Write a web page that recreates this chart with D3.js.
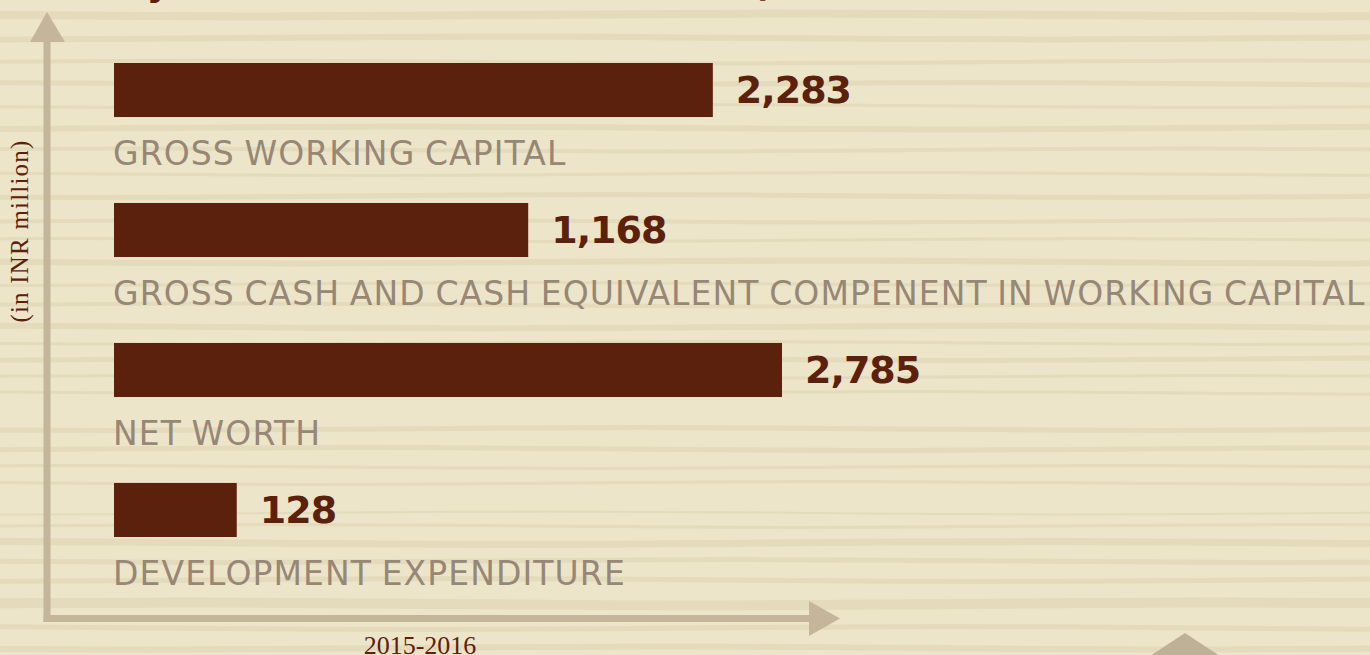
<!DOCTYPE html>
<html>
<head>
<meta charset="utf-8">
<script src="https://cdn.jsdelivr.net/npm/d3@7"></script>
<style>
  html, body { margin: 0; padding: 0; background: #EDE5C9; overflow: hidden; }
  svg { display: block; }
</style>
</head>
<body>
<svg id="chart" width="1370" height="655"></svg>
<script>
// ---- data ----
const categories = [
  "GROSS WORKING CAPITAL",
  "GROSS CASH AND CASH EQUIVALENT COMPENENT IN WORKING CAPITAL",
  "NET WORTH",
  "DEVELOPMENT EXPENDITURE"
];
const values = [2283, 1168, 2785, 128];
const valueLabels = ["2,283", "1,168", "2,785", "128"];
const yAxisTitle = "(in INR million)";
const xAxisLabel = "2015-2016";
const titleLeft = "Key Financial Indicators";
const titleRight = "(All Amounts Stated in INR Million)";

// decorative wood-grain stripes: [y, thickness]
const stripes = [
  [15,8],[38,6],[62,4],[84,5],[106,3],[128,6],[150,4],[174,3],[196,5],[221,4],
  [240,3],[262,6],[284,3],[305,4],[327,6],[343,3],[359,5],[377,3],[393,3],[429,5],
  [449,5],[467,3],[483,3],[513,2],[526,3],[543,7],[561,5],[580,5],[604,10],[628,5],[648,6]
];

const W = 1370, H = 655;
const svg = d3.select("#chart");

const colors = {
  bg: "#EDE5C9",
  stripe: "#E4DABC",
  bar: "#5C210D",
  label: "#978776",
  axis: "#C4B59B",
  text: "#5C210D"
};

// background
svg.append("rect").attr("width", W).attr("height", H).attr("fill", colors.bg);

const waveLine = d3.line().curve(d3.curveBasis);
svg.append("g").selectAll("path").data(stripes).join("path")
  .attr("d", (s, k) => {
    const pts = d3.range(-1, 11).map(i => [i * 150, s[0] + 1.6 * Math.sin(i * 0.9 + k * 1.7)]);
    return waveLine(pts);
  })
  .attr("fill", "none")
  .attr("stroke", colors.stripe)
  .attr("stroke-width", d => d[1]);

// title (cut off at top)
svg.append("text").attr("x", 95).attr("y", -4)
  .attr("font-family", "DejaVu Sans").attr("font-weight", "bold").attr("font-size", 36)
  .attr("fill", colors.text).text(titleLeft);
svg.append("text").attr("x", 752).attr("y", -4)
  .attr("font-family", "DejaVu Sans").attr("font-weight", "bold").attr("font-size", 36)
  .attr("fill", colors.text).text(titleRight);

// scales
const x0 = 114;
const x = d3.scalePow().exponent(0.55).domain([0, d3.max(values)]).range([0, 668]);
const y = d3.scaleBand().domain(categories).range([63, 537]).paddingInner(0.614).paddingOuter(0);

// axes arrows
const ax = svg.append("g");
ax.append("line").attr("x1", 47).attr("y1", 40).attr("x2", 47).attr("y2", 622)
  .attr("stroke", colors.axis).attr("stroke-width", 7);
ax.append("line").attr("x1", 43.5).attr("y1", 618.5).attr("x2", 812).attr("y2", 618.5)
  .attr("stroke", colors.axis).attr("stroke-width", 7);
ax.append("polygon").attr("points", "47,12 30,42 65,42").attr("fill", colors.axis);
ax.append("polygon").attr("points", "840,618.5 809,601 809,636").attr("fill", colors.axis);
// partial arrow of neighbouring panel
ax.append("polygon").attr("points", "1185,633 1150,656 1220,656").attr("fill", "#BFB197");

// bars
const g = svg.append("g");
g.selectAll("rect.bar").data(categories).join("rect")
  .attr("class", "bar")
  .attr("x", x0)
  .attr("y", d => y(d))
  .attr("width", (d, i) => x(values[i]))
  .attr("height", y.bandwidth())
  .attr("fill", colors.bar);

// value labels
g.selectAll("text.val").data(categories).join("text")
  .attr("class", "val")
  .attr("x", (d, i) => x0 + x(values[i]) + 23)
  .attr("y", d => y(d) + y.bandwidth() / 2 + 13)
  .attr("font-family", "DejaVu Sans").attr("font-weight", "bold")
  .attr("font-size", 38).attr("letter-spacing", -1)
  .attr("fill", colors.text)
  .text((d, i) => valueLabels[i]);

// category labels
g.selectAll("text.cat").data(categories).join("text")
  .attr("class", "cat")
  .attr("x", 113)
  .attr("y", d => y(d) + y.bandwidth() + 48)
  .attr("font-family", "DejaVu Sans")
  .attr("font-size", 33).attr("letter-spacing", 1.1).attr("word-spacing", -2)
  .attr("fill", colors.label)
  .text(d => d);

// y axis title
svg.append("text")
  .attr("transform", "translate(28,231) rotate(-90)")
  .attr("text-anchor", "middle")
  .attr("font-family", "Liberation Serif").attr("font-size", 25).attr("letter-spacing", 1.2)
  .attr("fill", colors.text).text(yAxisTitle);

// x label
svg.append("text")
  .attr("x", 420).attr("y", 654).attr("text-anchor", "middle")
  .attr("font-family", "Liberation Serif").attr("font-size", 26)
  .attr("fill", colors.text).text(xAxisLabel);
</script>
</body>
</html>
